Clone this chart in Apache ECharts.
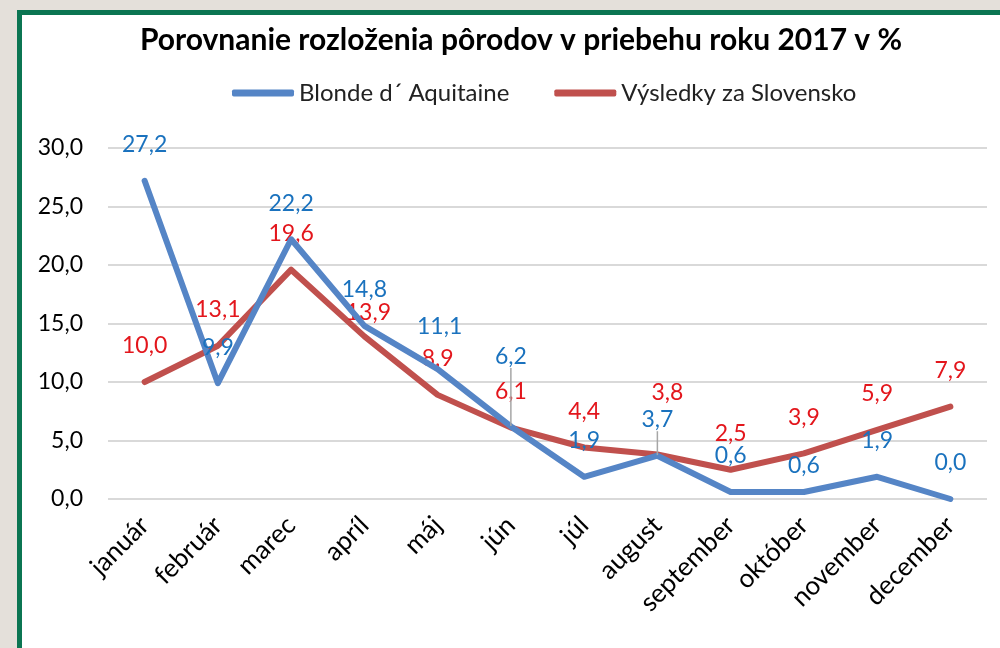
<!DOCTYPE html>
<html>
<head>
<meta charset="utf-8">
<script src="https://cdn.jsdelivr.net/npm/echarts@6/dist/echarts.min.js"></script>
<style>
  html, body { margin: 0; padding: 0; width: 1000px; height: 648px; overflow: hidden; background: #e4e0da; }
  #frame { position: absolute; left: 17px; top: 10px; width: 990px; height: 650px; background: #ffffff;
           border-left: 5px solid #0b7552; border-top: 5px solid #0b7552; }
  #chart { position: absolute; left: 0; top: 0; width: 1000px; height: 648px; }
</style>
</head>
<body>
<div id="frame"></div>
<div id="chart"></div>
<script>
const categories = ['január', 'február', 'marec', 'apríl', 'máj', 'jún', 'júl', 'august', 'september', 'október', 'november', 'december'];
const blondeValues = [27.2, 9.9, 22.2, 14.8, 11.1, 6.2, 1.9, 3.7, 0.6, 0.6, 1.9, 0.0];
const slovakiaValues = [10.0, 13.1, 19.6, 13.9, 8.9, 6.1, 4.4, 3.8, 2.5, 3.9, 5.9, 7.9];
const yTicks = [0, 5, 10, 15, 20, 25, 30];
const seriesNames = ['Blonde d´ Aquitaine', 'Výsledky za Slovensko'];

// label displacements (style only): [dx, dy] relative to default "top" position
const blondeLabelOffsets = [[0,0],[0,0],[0,0],[0,0],[2,-7],[0,-34],[0,0],[0,0],[0,0],[0,10],[0,0],[0,0]];
const blondeLeader = [false,false,false,false,false,true,false,true,false,false,false,false];
const slovakiaLabelOffsets = [[0,0],[0,0],[0,0],[4,12],[0,0],[0,0],[0,0],[10,-26],[0,0],[0,0],[0,0],[0,0]];
const labelOffsets = [blondeLabelOffsets, slovakiaLabelOffsets];

const FONT = 'Lato';
const fmt = v => v.toFixed(1).replace('.', ',');

function buildData(values, leaders) {
  return values.map((v, i) => ({
    value: v,
    labelLine: { show: !!(leaders && leaders[i]) }
  }));
}

const chart = echarts.init(document.getElementById('chart'), null, { renderer: 'canvas' });
chart.setOption({
  backgroundColor: 'transparent',
  animation: false,
  title: {
    text: 'Porovnanie rozloženia pôrodov v priebehu roku 2017 v %',
    left: 516, textAlign: 'center', top: 20,
    textStyle: { fontFamily: FONT, fontWeight: 'bold', fontSize: 30, color: '#000' }
  },
  legend: {
    top: 76, left: 227,
    itemWidth: 62, itemHeight: 7, itemGap: 45,
    icon: 'roundRect',
    textStyle: { fontFamily: FONT, fontSize: 24, color: '#222' },
    data: seriesNames
  },
  grid: { left: 108, right: 13, top: 148, bottom: 149, containLabel: false },
  xAxis: {
    type: 'category', data: categories, boundaryGap: true,
    axisLine: { show: false }, axisTick: { show: false },
    axisLabel: { rotate: 45, margin: 22, interval: 0, fontFamily: FONT, fontSize: 26, color: '#000' }
  },
  yAxis: {
    type: 'value', min: yTicks[0], max: yTicks[yTicks.length - 1], interval: 5,
    axisLine: { show: false }, axisTick: { show: false },
    splitLine: { lineStyle: { color: '#d9d9d9', width: 2 } },
    axisLabel: { margin: 25, fontFamily: FONT, fontSize: 23, color: '#000', formatter: fmt }
  },
  series: [
    {
      name: seriesNames[0], type: 'line', data: buildData(blondeValues, blondeLeader),
      symbol: 'circle', symbolSize: 1, z: 3,
      lineStyle: { color: '#5585c6', width: 6, cap: 'round', join: 'round' },
      itemStyle: { color: '#5585c6' },
      labelLine: { show: false, lineStyle: { color: '#a6a6a6', width: 1.5 } },
      labelLayout: p => ({ dx: labelOffsets[0][p.dataIndex][0], dy: labelOffsets[0][p.dataIndex][1] }),
      label: { show: true, position: 'top', distance: 24, fontFamily: FONT, fontSize: 23, color: '#1a72be',
               formatter: p => fmt(p.value) }
    },
    {
      name: seriesNames[1], type: 'line', data: buildData(slovakiaValues, null),
      symbol: 'circle', symbolSize: 1, z: 2,
      lineStyle: { color: '#c0504d', width: 6, cap: 'round', join: 'round' },
      itemStyle: { color: '#c0504d' },
      labelLine: { show: false },
      labelLayout: p => ({ dx: labelOffsets[1][p.dataIndex][0], dy: labelOffsets[1][p.dataIndex][1] }),
      label: { show: true, position: 'top', distance: 24, fontFamily: FONT, fontSize: 23, color: '#e3161c',
               formatter: p => fmt(p.value) }
    }
  ]
});
</script>
</body>
</html>
